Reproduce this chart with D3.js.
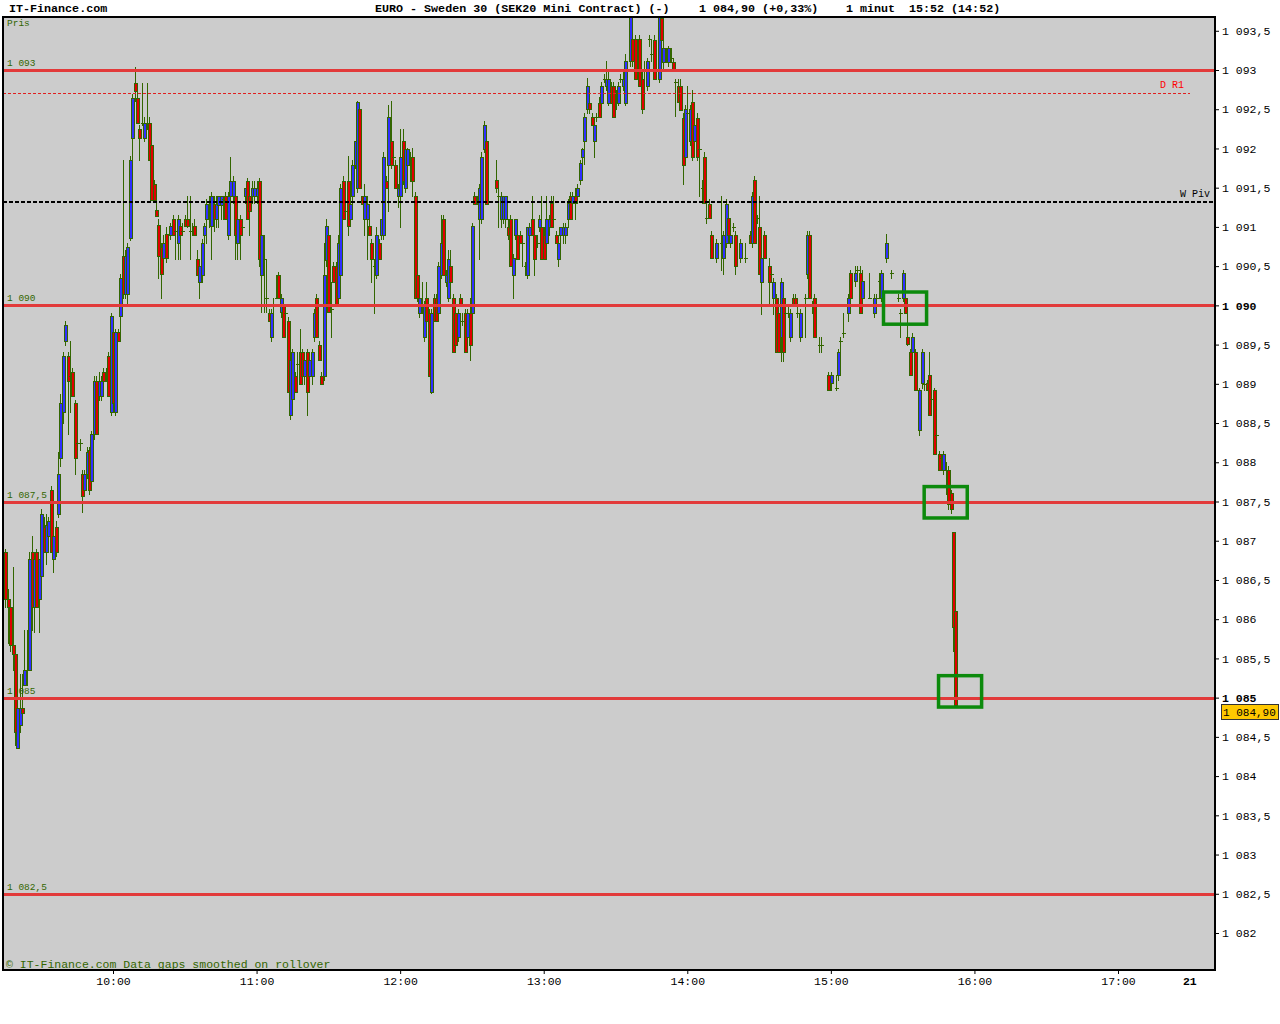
<!DOCTYPE html>
<html>
<head>
<meta charset="utf-8">
<script src="https://cdn.jsdelivr.net/npm/d3@7"></script>
<style>
  body { margin: 0; background: #fff; }
  text { font-family: "Liberation Mono", "DejaVu Sans Mono", monospace; }
</style>
</head>
<body>
<svg id="chart" width="1280" height="1024"></svg>
<script>
// one-minute bars [open, high, low, close], each list starts at the time in its name
// null = no trade in that minute
const barsFrom0915 = [
  [1086.86,1086.90,1086.15,1086.26],[1086.26,1086.38,1085.70,1086.15],[1086.15,1086.20,1085.60,1085.67],
  [1085.67,1086.66,1085.35,1085.55],[1085.55,1085.60,1084.39,1084.56],[1084.36,1084.90,1084.36,1084.87],
  [1084.65,1085.30,1084.56,1084.87],[1084.87,1085.30,1084.67,1084.80],[1085.16,1085.86,1085.16,1085.35],
  [1085.35,1085.86,1085.16,1085.35],[1085.35,1086.86,1085.35,1086.77],[1086.86,1087.06,1085.86,1086.15],
  [1086.15,1086.80,1085.84,1086.77],[1086.86,1086.90,1086.15,1086.15],[1086.26,1086.77,1085.84,1086.77],
  [1086.55,1087.40,1086.50,1087.34],[1087.17,1087.30,1086.86,1086.86],[1086.86,1087.34,1086.70,1087.20],
  [1087.06,1087.30,1087.00,1087.25],[1087.65,1087.70,1086.86,1086.86],[1086.77,1087.10,1086.60,1087.06],
  [1087.17,1087.25,1086.80,1086.86],[1087.34,1088.13,1087.30,1087.85],[1088.05,1088.87,1087.95,1088.76],
  [1088.64,1089.40,1088.50,1089.35],[1089.55,1089.80,1089.50,1089.75],[1089.35,1089.40,1088.36,1089.04],
  [1089.10,1089.55,1088.64,1089.10],[1089.15,1089.20,1088.84,1088.84],[1088.76,1088.80,1087.85,1088.05],
  [1088.25,1088.36,1088.16,1088.25],[1088.25,1088.30,1088.16,1088.25],[1087.85,1087.90,1087.37,1087.57],
  [1087.65,1087.90,1087.60,1087.85],[1087.85,1088.20,1087.80,1088.13],[1088.16,1088.20,1087.60,1087.65],
  [1087.76,1088.40,1087.70,1088.36],[1088.36,1089.10,1088.30,1089.04],[1089.04,1089.10,1088.36,1088.36],
  [1088.84,1089.15,1088.80,1089.04],[1088.84,1089.10,1088.80,1089.04],[1089.15,1089.20,1089.04,1089.04],
  [1089.10,1089.20,1089.04,1089.10],[1089.35,1089.40,1088.84,1088.84],[1088.64,1089.90,1088.60,1089.86],
  [1089.66,1089.70,1088.76,1088.76],[1088.64,1089.70,1088.60,1089.66],[1089.66,1089.70,1089.55,1089.55],
  [1089.86,1090.40,1089.66,1090.35],[1090.63,1091.85,1090.10,1090.15],[1090.15,1090.70,1090.10,1090.63],
  [1090.15,1090.80,1090.00,1090.74],[1090.86,1091.90,1090.83,1091.85],[1092.13,1092.70,1091.50,1092.64],
  [1092.84,1093.04,1092.60,1092.73],[1092.64,1092.80,1092.33,1092.33],[1092.25,1092.30,1091.85,1092.13],
  [1092.33,1092.84,1092.30,1092.33],[1092.13,1092.40,1092.10,1092.33],[1092.33,1092.84,1092.25,1092.33],
  [1092.33,1092.40,1091.85,1091.85],[1092.05,1092.10,1091.34,1091.34],[1091.55,1091.60,1091.34,1091.34],
  [1091.22,1091.30,1091.14,1091.14],[1091.03,1091.10,1090.35,1090.63],[1090.74,1090.80,1090.09,1090.40],
  [1090.60,1090.90,1090.55,1090.80],[1090.91,1091.00,1090.55,1090.60]
]
const barsFrom1024 = [
  [1090.90,1091.05,1090.85,1091.01],[1091.10,1091.15,1090.90,1090.90],[1090.95,1091.05,1090.59,1090.95],
  [1090.80,1091.15,1090.59,1091.10],[1091.01,1091.05,1090.59,1090.90],[1090.95,1091.05,1090.90,1090.95],
  [1091.10,1091.15,1091.01,1091.01],[1091.10,1091.40,1091.00,1091.01],[1090.95,1091.40,1090.59,1090.95],
  [1090.95,1091.05,1090.90,1090.95],[1091.01,1091.10,1090.90,1090.90],[1090.59,1090.70,1090.39,1090.39],
  [1090.30,1090.55,1090.10,1090.50],[1090.39,1090.85,1090.30,1090.80],[1090.90,1091.05,1090.59,1091.01],
  [1091.10,1091.35,1090.80,1091.29],[1091.25,1091.40,1091.00,1091.25],[1091.01,1091.45,1090.59,1091.40],
  [1091.29,1091.40,1090.95,1091.10],[1091.10,1091.40,1091.00,1091.29],[1091.28,1091.40,1091.00,1091.39],
  [1091.28,1091.40,1091.10,1091.39],[1091.35,1091.40,1091.10,1091.35],[1091.39,1091.45,1091.10,1091.10],
  [1090.90,1091.45,1090.85,1091.39],[1091.39,1091.89,1091.35,1091.59],[1091.39,1091.65,1091.30,1091.59],
  [1091.39,1091.40,1090.59,1090.90],[1090.80,1091.10,1090.59,1091.10],[1091.10,1091.15,1090.59,1090.90],
  [1091.00,1091.10,1090.90,1091.00],[1091.39,1091.50,1091.30,1091.50],[1091.59,1091.62,1091.10,1091.10],
  [1091.39,1091.59,1090.90,1091.20],[1091.39,1091.59,1091.30,1091.50],[1091.39,1091.59,1091.30,1091.50],
  [1091.39,1091.59,1091.30,1091.50],[1091.59,1091.62,1090.50,1090.59],[1090.39,1090.95,1089.91,1090.90],
  [1090.59,1090.90,1089.91,1090.59],[1090.10,1090.59,1089.91,1090.10],[1089.90,1089.95,1089.80,1089.80],
  [1089.60,1089.95,1089.55,1089.90],[1090.00,1090.10,1089.91,1090.00],[1090.10,1090.39,1090.10,1090.10],
  [1090.39,1090.42,1090.10,1090.10],[1089.91,1090.15,1089.85,1090.10],[1089.99,1090.05,1089.60,1089.60],
  [1089.90,1089.95,1089.85,1089.90],[1089.80,1089.85,1088.90,1088.90],[1088.60,1089.35,1088.55,1089.30],
  [1088.81,1089.45,1088.75,1089.40],[1089.10,1089.15,1088.90,1088.90],[1089.25,1089.40,1089.10,1089.25],
  [1089.40,1089.70,1089.00,1089.00],[1089.40,1089.45,1089.10,1089.10],[1089.10,1089.35,1089.00,1089.30],
  [1089.40,1089.45,1088.60,1088.90],[1089.10,1089.35,1089.00,1089.30],[1089.10,1089.45,1089.00,1089.40],
  [1089.60,1089.95,1089.55,1089.90],[1090.10,1090.15,1089.60,1089.60],[1089.50,1089.55,1089.30,1089.30],
  [1089.10,1089.15,1089.00,1089.00],[1089.10,1090.80,1089.05,1090.39],[1090.58,1091.10,1090.50,1091.01],
  [1090.90,1091.00,1089.91,1089.91]
]
const barsFrom1131 = [
  [1089.95,1090.30,1089.60,1089.95],[1090.50,1090.55,1090.30,1090.30],[1090.50,1090.55,1089.99,1090.00],
  [1090.10,1090.90,1090.05,1090.80],[1090.39,1091.55,1090.35,1091.50],[1091.59,1091.65,1091.10,1091.10],
  [1091.20,1091.30,1091.10,1091.20],[1091.59,1091.90,1090.90,1091.01],[1091.10,1091.35,1091.05,1091.29],
  [1091.39,1091.85,1091.30,1091.79],[1091.79,1092.10,1091.75,1092.09],[1091.50,1092.60,1091.45,1092.59],
  [1092.50,1092.55,1091.50,1091.50],[1091.39,1091.40,1091.29,1091.29],[1091.10,1091.55,1090.90,1091.39],
  [1091.10,1091.40,1090.59,1091.29],[1091.01,1091.10,1090.90,1090.90],[1090.80,1090.85,1090.30,1090.59],
  [1090.50,1090.59,1089.90,1090.50],[1090.39,1091.00,1090.35,1090.90],[1090.80,1090.85,1090.59,1090.59],
  [1090.90,1091.10,1090.85,1091.10],[1090.90,1091.95,1090.85,1091.89],[1091.59,1091.65,1091.50,1091.50],
  [1091.79,1092.55,1091.20,1092.40],[1092.09,1092.60,1091.75,1091.79],[1091.89,1091.95,1091.80,1091.89],
  [1091.79,1091.85,1091.50,1091.50],[1091.40,1091.55,1091.25,1091.50],[1091.40,1092.25,1091.00,1091.89],
  [1092.09,1092.25,1091.55,1091.59],[1091.50,1092.05,1091.45,1091.99],[1091.79,1092.00,1091.70,1091.99],
  [1091.89,1091.95,1091.59,1091.89],[1091.89,1092.00,1091.40,1091.59],[1091.40,1091.45,1090.10,1090.10],
  [1090.39,1090.80,1090.05,1090.10],[1089.90,1090.15,1089.85,1090.10],[1089.95,1090.30,1089.90,1089.95],
  [1089.60,1090.05,1089.55,1089.99],[1090.10,1090.30,1089.80,1089.80],[1089.90,1089.95,1089.10,1089.10],
  [1088.90,1089.95,1088.88,1089.90],[1090.10,1090.15,1089.80,1089.80],[1090.10,1090.15,1089.80,1089.80],
  [1089.90,1090.55,1089.85,1090.50],[1090.39,1091.15,1090.35,1090.80],[1091.10,1091.15,1090.39,1090.39],
  [1090.30,1090.45,1090.25,1090.39],[1090.10,1090.70,1090.05,1090.59],[1090.50,1090.70,1090.30,1090.30],
  [1090.10,1090.15,1089.40,1089.40],[1089.90,1089.95,1089.50,1089.50],[1089.60,1089.95,1089.55,1089.90],
  [1090.10,1090.15,1089.99,1089.99],[1089.80,1089.90,1089.75,1089.80],[1089.90,1089.95,1089.40,1089.40],
  [1089.60,1089.95,1089.55,1089.90],[1089.90,1090.10,1089.30,1089.50],[1089.90,1091.05,1089.85,1091.01],
  [1091.40,1091.45,1091.29,1091.29],[1091.35,1091.40,1091.29,1091.35],[1091.10,1091.55,1090.59,1091.50],
  [1091.10,1091.95,1091.05,1091.89],[1091.99,1092.35,1091.95,1092.30],[1092.09,1092.15,1091.29,1091.29]
]
const barsFrom1240 = [
  [1091.60,1091.85,1091.45,1091.50],[1091.40,1091.50,1091.00,1091.40],[1091.10,1091.45,1091.00,1091.39],
  [1091.10,1091.40,1091.05,1091.39],[1091.10,1091.40,1091.00,1091.39],[1091.00,1091.10,1090.85,1090.90],
  [1091.10,1091.15,1090.50,1090.50],[1090.39,1090.65,1090.10,1090.61],[1090.90,1091.10,1090.85,1091.10],
  [1090.90,1091.00,1090.59,1090.59],[1090.90,1090.95,1090.80,1090.80],[1090.80,1090.85,1090.50,1090.80],
  [1090.50,1090.55,1090.39,1090.50],[1090.39,1091.00,1090.35,1091.00],[1090.90,1091.05,1090.85,1091.00],
  [1091.10,1091.40,1090.90,1090.90],[1090.90,1091.00,1090.39,1090.59],[1090.80,1090.90,1090.75,1090.80],
  [1091.00,1091.15,1090.95,1091.10],[1091.00,1091.39,1090.59,1090.59],[1090.90,1091.00,1090.59,1090.59],
  [1090.80,1091.39,1090.75,1091.10],[1091.00,1091.15,1090.90,1091.10],[1091.31,1091.39,1091.00,1091.00],
  [1091.10,1091.39,1091.00,1091.10],[1090.90,1090.95,1090.80,1090.80],[1090.59,1090.85,1090.50,1090.80],
  [1090.90,1091.00,1090.80,1091.00],[1090.90,1091.05,1090.80,1091.00],[1090.90,1091.05,1090.80,1091.00],
  [1091.10,1091.35,1091.00,1091.31],[1091.39,1091.45,1091.10,1091.10],[1091.31,1091.45,1091.25,1091.39],
  [1091.39,1091.50,1091.10,1091.31],[1091.39,1091.55,1091.30,1091.50],[1091.60,1091.85,1091.55,1091.81],
  [1091.89,1092.00,1091.60,1091.99],[1092.09,1092.45,1091.80,1092.40],[1092.50,1092.90,1092.45,1092.80],
  [1092.58,1092.60,1092.45,1092.50],[1092.40,1092.45,1092.30,1092.30],[1092.09,1092.35,1091.89,1092.30],
  [1092.40,1092.45,1092.35,1092.40],[1092.58,1092.65,1092.40,1092.40],[1092.58,1092.85,1092.55,1092.80],
  [1092.89,1092.95,1092.85,1092.89],[1092.80,1093.11,1092.75,1092.89],[1092.58,1093.00,1092.55,1092.89],
  [1092.80,1092.85,1092.58,1092.58],[1092.80,1092.85,1092.40,1092.40],[1092.70,1092.75,1092.50,1092.70],
  [1092.58,1092.85,1092.55,1092.80],[1092.89,1092.95,1092.85,1092.89],[1092.80,1093.00,1092.75,1092.89],
  [1092.58,1093.20,1092.55,1093.11],[1093.00,1093.11,1092.89,1093.00],[1093.11,1093.80,1093.05,1093.70],
  [1093.39,1093.66,1093.05,1093.11],[1093.39,1093.45,1092.89,1092.89],[1093.00,1093.11,1092.89,1093.00],
  [1093.39,1093.45,1092.80,1092.80],[1092.89,1093.00,1092.45,1092.50],[1093.00,1093.11,1092.89,1093.00],
  [1092.80,1093.15,1092.75,1093.11],[1093.39,1093.45,1093.30,1093.39],[1093.20,1093.39,1093.11,1093.20]
]
const barsFrom1346 = [
  [1093.38,1093.45,1092.89,1092.89],null,[1092.89,1093.80,1092.85,1093.70],
  [1093.66,1093.80,1093.38,1093.38],[1093.10,1093.38,1093.00,1093.28],[1093.15,1093.28,1093.10,1093.15],
  [1093.10,1093.30,1093.05,1093.28],[1093.15,1093.28,1093.10,1093.15],[1093.10,1093.15,1093.00,1093.00],
  [1092.85,1092.89,1092.41,1092.85],[1092.80,1092.89,1092.59,1092.59],[1092.80,1092.89,1092.49,1092.49],
  [1092.39,1092.45,1091.55,1091.79],[1091.89,1092.55,1091.85,1092.50],[1092.45,1092.80,1092.39,1092.45],
  [1092.09,1092.55,1092.05,1092.50],[1092.59,1092.75,1091.85,1091.89],[1092.09,1092.35,1092.00,1092.30],
  [1092.39,1092.45,1091.85,1091.89],[1091.99,1092.05,1091.39,1091.99],[1091.50,1091.60,1091.31,1091.50],
  [1091.89,1091.95,1091.31,1091.31],[1091.11,1091.31,1091.05,1091.11],[1091.29,1091.35,1091.11,1091.11],
  [1090.90,1090.95,1090.60,1090.60],null,[1090.60,1090.85,1090.55,1090.80],
  null,[1090.80,1091.39,1090.45,1090.80],[1090.60,1090.95,1090.40,1090.90],
  [1090.80,1091.35,1090.75,1091.29],[1091.11,1091.15,1090.90,1090.90],[1090.80,1090.95,1090.75,1090.90],
  [1091.00,1091.05,1090.95,1091.00],[1090.90,1090.95,1090.40,1090.50],null,
  [1090.60,1090.85,1090.55,1090.80],null,[1090.60,1090.80,1090.55,1090.60],
  null,[1090.90,1090.95,1090.80,1090.80],[1090.80,1091.45,1090.75,1091.39],
  [1091.60,1091.65,1090.80,1090.80],[1091.11,1091.15,1091.05,1091.11],[1091.00,1091.39,1090.40,1090.40],
  [1090.30,1090.65,1089.89,1090.60],[1090.90,1090.95,1090.60,1090.60],null,
  [1090.50,1090.60,1090.00,1090.30],[1090.40,1090.45,1090.30,1090.40],[1090.10,1090.35,1089.89,1090.30],
  [1090.10,1090.15,1089.40,1089.40],[1089.90,1090.00,1089.40,1089.40],[1089.60,1090.35,1089.29,1090.30],
  [1090.10,1090.15,1089.29,1089.40],[1089.90,1089.95,1089.50,1089.90],[1089.90,1090.00,1089.85,1089.90],
  [1089.60,1089.95,1089.55,1089.90],[1090.10,1090.15,1090.01,1090.01],[1090.10,1090.15,1090.01,1090.01],
  [1089.90,1090.00,1089.85,1089.90],[1089.60,1089.95,1089.55,1089.90],null,
  [1090.10,1090.15,1089.60,1090.10],[1090.40,1090.95,1090.35,1090.90],[1090.90,1090.95,1090.10,1090.10],
  [1090.00,1090.05,1089.90,1090.00],[1090.10,1090.15,1089.60,1089.60],[1090.00,1090.10,1089.61,1090.00]
]
const barsFrom1455 = [
  [1089.50,1089.60,1089.40,1089.50],[1089.50,1089.60,1089.40,1089.50],null,null,
  [1089.11,1089.15,1088.92,1088.92],[1089.01,1089.15,1088.92,1089.11],null,
  [1088.95,1089.11,1088.92,1088.95],[1089.11,1089.45,1089.05,1089.40],[1089.55,1089.60,1089.40,1089.55],
  [1089.65,1089.90,1089.60,1089.65],null,[1089.90,1090.15,1089.80,1090.10],
  [1090.41,1090.45,1090.10,1090.10],null,[1090.31,1090.50,1090.25,1090.41],
  [1090.45,1090.50,1090.40,1090.45],[1090.41,1090.50,1089.90,1089.90],[1090.10,1090.45,1090.05,1090.31],
  null,null,[1090.10,1090.41,1090.10,1090.10],null,
  [1089.90,1090.15,1089.85,1090.10],[1090.10,1090.15,1090.05,1090.10],[1090.31,1090.41,1090.10,1090.31],
  [1090.10,1090.45,1090.05,1090.41],null,[1090.60,1090.91,1090.55,1090.80],
  null,[1090.41,1090.45,1090.35,1090.41],null,null,
  [1090.10,1090.15,1090.05,1090.10],[1089.90,1089.95,1089.60,1089.90],[1090.10,1090.45,1090.05,1090.41],
  [1090.10,1090.15,1089.90,1089.90],[1089.60,1089.90,1089.50,1089.51],[1089.40,1089.45,1089.11,1089.11],
  [1089.40,1089.65,1089.35,1089.60],[1089.40,1089.45,1088.92,1088.92],null,
  [1088.41,1088.95,1088.35,1088.92],[1089.01,1089.45,1088.95,1089.40],[1089.00,1089.40,1088.92,1089.00],
  [1089.01,1089.05,1088.92,1088.92],[1089.11,1089.40,1088.60,1088.60],[1088.81,1088.85,1088.75,1088.81],
  [1088.92,1088.95,1088.11,1088.11],[1088.35,1088.41,1088.11,1088.35],[1088.11,1088.15,1087.90,1087.90],
  [1088.05,1088.11,1088.00,1088.05],[1087.90,1088.15,1087.85,1088.11],[1087.90,1088.00,1087.60,1087.90],
  [1087.90,1087.95,1087.40,1087.47],[1087.61,1087.65,1087.35,1087.40],[1087.11,1087.11,1085.60,1085.90],
  [1086.10,1086.15,1084.90,1084.90]
]
const segmentStarts = ['09:15', '10:24', '11:31', '12:40', '13:46', '14:55']
const segments = [barsFrom0915, barsFrom1024, barsFrom1131, barsFrom1240, barsFrom1346, barsFrom1455]

const levelPrices = [1093, 1090, 1087.5, 1085, 1082.5]
const pivotNames = ['D R1', 'W Piv']
const pivotPrices = [1092.71, 1091.32]
const yTickValues = [1082, 1082.5, 1083, 1083.5, 1084, 1084.5, 1085, 1085.5, 1086, 1086.5, 1087, 1087.5,
  1088, 1088.5, 1089, 1089.5, 1090, 1090.5, 1091, 1091.5, 1092, 1092.5, 1093, 1093.5]
const boldTicks = [1085, 1090]
const xTickTimes = ['10:00', '11:00', '12:00', '13:00', '14:00', '15:00', '16:00', '17:00']
const dayTick = { time: '17:30', label: '21' }
// hand drawn boxes: [from, to, top price, bottom price]
const boxes = [
  ['15:22', '15:40', 1090.17, 1089.76],
  ['15:39', '15:57', 1087.69, 1087.29],
  ['15:45', '16:03', 1085.28, 1084.88]
]
const lastPrice = 1084.90

const W = 1280
const H = 1024
const plotL = 3
const plotR = 1215
const plotT = 17
const plotB = 970

const locale = d3.formatLocale({ decimal: ',', thousands: ' ', grouping: [3], currency: ['', ''] })
const fmtPrice = locale.format(',')
const fmtLast = locale.format(',.2f')

const toDate = s => {
  let p = s.split(':')
  return new Date(2011, 0, 20, +p[0], +p[1])
}

const x = d3.scaleTime()
  .domain([toDate('10:00'), toDate('17:00')])
  .range([113, 1118])
const y = d3.scaleLinear()
  .domain([1082, 1093])
  .range([933, 70])

let bars = []
segments.forEach((seg, si) => {
  let start = toDate(segmentStarts[si])
  seg.forEach((b, i) => {
    if (!b) return
    bars.push({ t: d3.timeMinute.offset(start, i), o: b[0], h: b[1], l: b[2], c: b[3] })
  })
})

const svg = d3.select('#chart')
svg.append('rect').attr('width', W).attr('height', H).attr('fill', '#fff')

svg.append('defs').append('clipPath').attr('id', 'plotclip')
  .append('rect')
  .attr('x', plotL).attr('y', plotT)
  .attr('width', plotR - plotL).attr('height', plotB - plotT)

svg.append('rect')
  .attr('x', plotL).attr('y', plotT)
  .attr('width', plotR - plotL).attr('height', plotB - plotT)
  .attr('fill', '#cccccc')

const plot = svg.append('g').attr('clip-path', 'url(#plotclip)')

// candles: 4px body = green edge, 2px colour, green edge
const OUTLINE = '#336600'
const UP = '#3030ff'
const DOWN = '#e00000'

const candles = plot.append('g').attr('shape-rendering', 'crispEdges')
  .selectAll('g')
  .data(bars)
  .join('g')

candles.each(function (d) {
  let g = d3.select(this)
  let cx = Math.round(x(d.t))
  let top = Math.round(y(Math.max(d.o, d.c)))
  let bot = Math.round(y(Math.min(d.o, d.c)))
  let hi = Math.round(y(d.h))
  let lo = Math.round(y(d.l))
  g.append('rect')
    .attr('x', cx).attr('y', hi)
    .attr('width', 1).attr('height', Math.max(1, lo - hi + 1))
    .attr('fill', OUTLINE)
  g.append('rect')
    .attr('x', cx - 1).attr('y', top)
    .attr('width', 4).attr('height', Math.max(1, bot - top + 1))
    .attr('fill', OUTLINE)
  if (bot - top >= 2) {
    g.append('rect')
      .attr('x', cx).attr('y', top + 1)
      .attr('width', 2).attr('height', bot - top - 1)
      .attr('fill', d.c > d.o ? UP : DOWN)
  }
})

// support / resistance levels
plot.selectAll('line.level')
  .data(levelPrices)
  .join('line')
  .attr('class', 'level')
  .attr('x1', plotL).attr('x2', plotR)
  .attr('y1', d => Math.round(y(d)) + 0.5)
  .attr('y2', d => Math.round(y(d)) + 0.5)
  .attr('stroke', '#e23a3a')
  .attr('stroke-width', 3)

svg.selectAll('text.level')
  .data(levelPrices)
  .join('text')
  .attr('class', 'level')
  .attr('x', 7)
  .attr('y', d => Math.round(y(d)) - 4)
  .attr('font-size', 9.5)
  .attr('fill', '#336600')
  .text(d => fmtPrice(d))

// pivot lines
plot.append('line')
  .attr('x1', plotL).attr('x2', 1190)
  .attr('y1', Math.round(y(pivotPrices[0])) + 0.5)
  .attr('y2', Math.round(y(pivotPrices[0])) + 0.5)
  .attr('stroke', '#e02020')
  .attr('stroke-dasharray', '3,2')
plot.append('line')
  .attr('x1', plotL).attr('x2', plotR)
  .attr('y1', Math.round(y(pivotPrices[1])))
  .attr('y2', Math.round(y(pivotPrices[1])))
  .attr('stroke', '#000')
  .attr('stroke-width', 2)
  .attr('stroke-dasharray', '4,2')

svg.append('text')
  .attr('x', 1160).attr('y', Math.round(y(pivotPrices[0])) - 5)
  .attr('font-size', 10).attr('fill', '#ff0000')
  .text(pivotNames[0])
svg.append('text')
  .attr('x', 1180).attr('y', Math.round(y(pivotPrices[1])) - 5)
  .attr('font-size', 10).attr('fill', '#000')
  .text(pivotNames[1])

// boxes
plot.selectAll('rect.box')
  .data(boxes)
  .join('rect')
  .attr('class', 'box')
  .attr('x', d => x(toDate(d[0])))
  .attr('y', d => y(d[2]))
  .attr('width', d => x(toDate(d[1])) - x(toDate(d[0])))
  .attr('height', d => y(d[3]) - y(d[2]))
  .attr('fill', 'none')
  .attr('stroke', '#0c8a0c')
  .attr('stroke-width', 3.5)

svg.append('text')
  .attr('x', 7).attr('y', 26)
  .attr('font-size', 9.5).attr('fill', '#336600')
  .text('Pris')

svg.append('text')
  .attr('x', 6).attr('y', 968)
  .attr('font-size', 11.5).attr('fill', '#336600')
  .text('\u00a9 IT-Finance.com Data gaps smoothed on rollover')

// frame
svg.append('rect')
  .attr('x', plotL).attr('y', plotT)
  .attr('width', plotR - plotL).attr('height', plotB - plotT)
  .attr('fill', 'none')
  .attr('stroke', '#000')
  .attr('stroke-width', 2)

// axes
const yAxis = svg.append('g')
  .attr('transform', `translate(${plotR},0)`)
  .call(d3.axisRight(y).tickValues(yTickValues).tickSize(4).tickPadding(3).tickFormat(fmtPrice))
yAxis.select('.domain').remove()
yAxis.selectAll('text')
  .attr('font-family', '"Liberation Mono", monospace')
  .attr('font-size', 11.5)
  .attr('font-weight', d => boldTicks.includes(d) ? 'bold' : null)

const xAxis = svg.append('g')
  .attr('transform', `translate(0,${plotB})`)
  .call(d3.axisBottom(x).tickValues(xTickTimes.map(toDate)).tickSize(4).tickPadding(3)
    .tickFormat(d3.timeFormat('%H:%M')))
xAxis.select('.domain').remove()
xAxis.selectAll('text')
  .attr('font-family', '"Liberation Mono", monospace')
  .attr('font-size', 11.5)

svg.append('text')
  .attr('x', x(toDate(dayTick.time)))
  .attr('y', plotB + 15)
  .attr('text-anchor', 'middle')
  .attr('font-size', 11.5)
  .attr('font-weight', 'bold')
  .text(dayTick.label)

// last price tag
const tagY = Math.round(y(lastPrice))
svg.append('rect')
  .attr('x', 1221.5).attr('y', tagY - 0.5)
  .attr('width', 57).attr('height', 15)
  .attr('fill', '#ffc800')
  .attr('stroke', '#333')
svg.append('text')
  .attr('x', 1223).attr('y', tagY + 11)
  .attr('font-size', 11)
  .text(fmtLast(lastPrice))

// header
const header = svg.append('g')
  .attr('font-size', 11.7)
  .attr('font-weight', 'bold')
header.append('text').attr('x', 9).attr('y', 12).text('IT-Finance.com')
header.append('text').attr('x', 375).attr('y', 12).text('EURO - Sweden 30 (SEK20 Mini Contract) (-)')
header.append('text').attr('x', 699).attr('y', 12).text(fmtLast(lastPrice) + ' (+0,33%)')
header.append('text').attr('x', 846).attr('y', 12).text('1 minut')
header.append('text').attr('x', 909).attr('y', 12).text('15:52 (14:52)')
</script>
</body>
</html>
